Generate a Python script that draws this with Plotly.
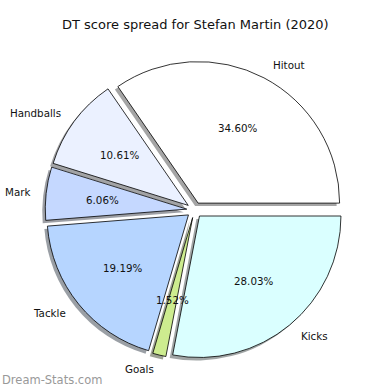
import math
import plotly.graph_objects as go

categories = ["Hitout", "Handballs", "Mark", "Tackle", "Goals", "Kicks"]
dt_points = [137, 42, 24, 76, 6, 111]
colors = ["#ffffff", "#ebf1ff", "#c5d8ff", "#b6d5ff", "#cdec8f", "#daffff"]
title_text = "DT score spread for Stefan Martin (2020)"
watermark = "Dream-Stats.com"

W = H = 390
PULL = 0.055
CX, CY, R = 194.5, 210.0, 141.5   # pie centre / radius in px
SHADOW_DX, SHADOW_DY = -3, 3

def hex_to_rgb(h):
    h = h.lstrip("#")
    return tuple(int(h[i:i + 2], 16) for i in (0, 2, 4))

shadow_colors = ["rgba(%d,%d,%d,0.5)" % tuple(int(c * 0.3) for c in hex_to_rgb(col)) for col in colors]

total = sum(dt_points)
# plotly (counterclockwise): first slice lies clockwise of `rotation`; start first slice at 3 o'clock
rotation = 90 - 360 * dt_points[0] / total

half = R * (1 + PULL)

def domain(cx, cy):
    return dict(x=[(cx - half) / W, (cx + half) / W],
                y=[1 - (cy + half) / H, 1 - (cy - half) / H])

fig = go.Figure()
fig.add_trace(go.Pie(
    labels=categories, values=dt_points, sort=False, direction="counterclockwise",
    rotation=rotation, pull=PULL, textinfo="none", hoverinfo="skip", showlegend=False,
    marker=dict(colors=shadow_colors, line=dict(width=0)),
    domain=domain(CX + SHADOW_DX, CY + SHADOW_DY)))
fig.add_trace(go.Pie(
    labels=categories, values=dt_points, sort=False, direction="counterclockwise",
    rotation=rotation, pull=PULL, textinfo="none", hoverinfo="skip", showlegend=False,
    marker=dict(colors=colors, line=dict(width=0.8, color="black")),
    domain=domain(CX, CY)))

annotations = []
start = 0.0
for name, v in zip(categories, dt_points):
    frac = v / total
    mid = math.radians((start + frac / 2) * 360)
    start += frac
    c, s = math.cos(mid), math.sin(mid)
    ox, oy = CX + PULL * R * c, CY - PULL * R * s
    lx, ly = ox + 1.1 * R * c, oy - 1.1 * R * s
    px, py = ox + 0.6 * R * c, oy - 0.6 * R * s
    annotations.append(dict(x=lx / W, y=1 - ly / H, xref="paper", yref="paper",
                            text=name, showarrow=False,
                            xanchor="left" if c > 0 else "right", yanchor="middle",
                            font=dict(size=10.3, color="#111")))
    annotations.append(dict(x=px / W, y=1 - py / H, xref="paper", yref="paper",
                            text="%.2f%%" % (frac * 100), showarrow=False,
                            xanchor="center", yanchor="middle",
                            font=dict(size=10.3, color="#111")))

annotations.append(dict(x=195 / W, y=1 - 25 / H, xref="paper", yref="paper",
                        text=title_text, showarrow=False, xanchor="center", yanchor="middle",
                        font=dict(size=13, color="#111")))
annotations.append(dict(x=0, y=1 - 380 / H, xref="paper", yref="paper",
                        text=watermark, showarrow=False, xanchor="left", yanchor="middle",
                        font=dict(size=11.5, color="#999999")))

fig.update_layout(width=W, height=H, margin=dict(l=0, r=0, t=0, b=0),
                  paper_bgcolor="white", plot_bgcolor="white",
                  font=dict(family="DejaVu Sans"), annotations=annotations)
fig.write_html("out.html", config={"displayModeBar": False},
               post_script="document.body.style.margin='0px';")
